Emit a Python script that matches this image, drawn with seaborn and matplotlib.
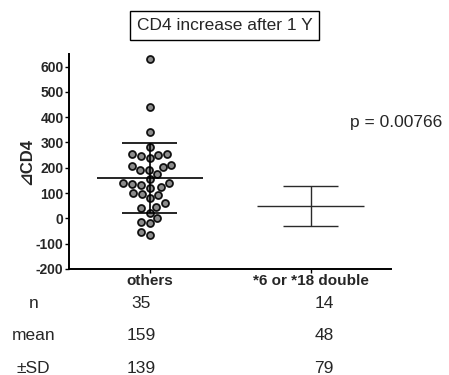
import matplotlib
matplotlib.use("Agg")
import matplotlib.pyplot as plt
import seaborn as sns
import pandas as pd

sns.set_theme(style="white")
plt.rcParams['font.family'] = ['Liberation Sans', 'DejaVu Sans']

groups = ["others", "*6 or *18 double"]
others_values = [630, 440, 341, 284, 255, 247, 255, 251, 238, 202, 206, 211,
                 191, 191, 174, 154, 141, 135, 131, 138, 119, 125, 100, 92,
                 96, 79, 59, 46, 39, 23, 0, -15, -20, -53, -66]
n_values = [35, 14]
means = [159, 48]
sds = [139, 79]
row_labels = ["n", "mean", "\u00b1SD"]
p_text = "p = 0.00766"
title = "CD4 increase after 1 Y"
y_ticks = [-200, -100, 0, 100, 200, 300, 400, 500, 600]

df = pd.DataFrame({"group": [groups[0]] * len(others_values), "value": others_values})
df["group"] = pd.Categorical(df["group"], categories=groups)

fig = plt.figure(figsize=(4.49, 3.75), dpi=100)
ax = fig.add_axes([0.154, 0.283, 0.717, 0.573])

sns.swarmplot(data=df, x="group", y="value", order=groups, ax=ax,
              color="#8c8c8c", edgecolor="#111111", linewidth=1.3, size=5.0)

for i, (m, s) in enumerate(zip(means, sds)):
    lw = 1.2 if i == 0 else 1.0
    col = "black" if i == 0 else "#2a2a2a"
    ax.hlines(m, i - 0.33, i + 0.33, color=col, lw=lw, zorder=3)
    ax.hlines([m - s, m + s], i - 0.17, i + 0.17, color=col, lw=lw, zorder=3)
    ax.vlines(i, m - s, m + s, color=col, lw=lw, zorder=3)

ax.set_xlim(-0.5, 1.5)
ax.set_ylim(-200, 650)
ax.set_yticks(y_ticks)
ax.set_yticklabels([str(t) for t in y_ticks], fontsize=10, fontweight="bold")
ax.set_xticks(range(len(groups)))
ax.set_xticklabels(groups, fontsize=11, fontweight="bold")
ax.set_xlabel("")
ax.set_ylabel("\u22bfCD4", fontsize=12, fontweight="bold", labelpad=1)
for side in ["top", "right"]:
    ax.spines[side].set_visible(False)
for side in ["left", "bottom"]:
    ax.spines[side].set_color("black")
    ax.spines[side].set_linewidth(1.4)
ax.tick_params(axis="both", which="major", direction="out", length=3, width=1,
               color="black", pad=1, bottom=True, left=True)

fig.text(0.5, 0.933, title, fontsize=12.5, ha="center", va="center",
         bbox=dict(boxstyle="square,pad=0.4", fc="white", ec="black", lw=1))
fig.text(0.985, 0.672, p_text, fontsize=12.5, ha="right", va="center")

row_y = [0.192, 0.104, 0.018]
xs = [0.314, 0.722]
for lbl, y in zip(row_labels, row_y):
    fig.text(0.075, y, lbl, fontsize=12.5, ha="center", va="center")
rows = [n_values, means, sds]
for vals, y in zip(rows, row_y):
    for v, x in zip(vals, xs):
        fig.text(x, y, str(v), fontsize=12.5, ha="center", va="center")

fig.savefig("out.png", dpi=100)
